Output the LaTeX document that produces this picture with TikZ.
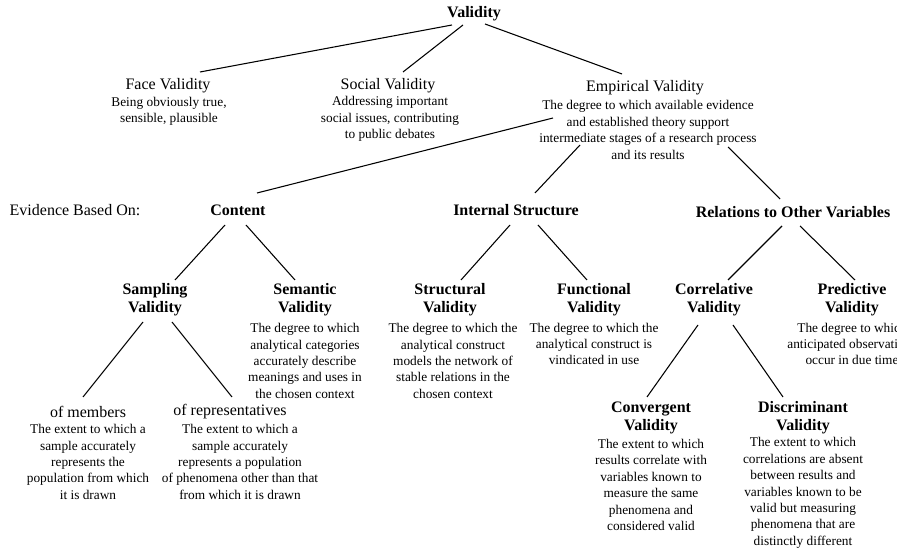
\documentclass[tikz,border=0pt]{standalone}
\usepackage{fontspec}
\setmainfont{Liberation Serif}
\usetikzlibrary{calc}

\begin{document}
\begin{tikzpicture}[
      x=0.75pt, y=-0.75pt,
      head/.style={inner sep=0pt, align=center, font=\fontsize{12}{13.5}\selectfont},
      bhead/.style={inner sep=0pt, align=center, font=\fontsize{12}{13.5}\selectfont\bfseries},
      desc/.style={inner sep=0pt, align=center, font=\fontsize{10}{12.3}\selectfont},
      link/.style={line width=0.8pt}
    ]
    \clip (0,0) rectangle (897,548);
    % top level
    \node[bhead] (valid) at (474,14) {Validity};
    \node[head] (face) at (168,86) {Face Validity};
    \node[desc] (facetxt) at (169,111) {Being obviously true,\\sensible, plausible};
    \node[head] (social) at (388,86) {Social Validity};
    \node[desc] (socialtxt) at (390,119) {Addressing important\\social issues, contributing\\to public debates};
    \node[head] (emp) at (645,88) {Empirical Validity};
    \node[desc] (emptxt) at (648,130) {The degree to which available evidence\\and established theory support\\intermediate stages of a research process\\and its results};
    % evidence row
    \node[head] (evid) at (75,210) {Evidence Based On:};
    \node[bhead] (content) at (238,210) {Content};
    \node[bhead] (internal) at (516,210) {Internal Structure};
    \node[bhead] (relations) at (793,212) {Relations to Other Variables};
    % third row
    \node[bhead] (sampling) at (155,300) {Sampling\\Validity};
    \node[bhead] (semantic) at (305,300) {Semantic\\Validity};
    \node[desc] (semantictxt) at (305,361) {The degree to which\\analytical categories\\accurately describe\\meanings and uses in\\the chosen context};
    \node[bhead] (structural) at (450,300) {Structural\\Validity};
    \node[desc] (structuraltxt) at (453,361) {The degree to which the\\analytical construct\\models the network of\\stable relations in the\\chosen context};
    \node[bhead] (functional) at (594,300) {Functional\\Validity};
    \node[desc] (functionaltxt) at (594,344) {The degree to which the\\analytical construct is\\vindicated in use};
    \node[bhead] (correl) at (714,300) {Correlative\\Validity};
    \node[bhead] (predict) at (852,300) {Predictive\\Validity};
    \node[desc] (predicttxt) at (852,344) {The degree to which\\anticipated observations\\occur in due time};
    % bottom row
    \node[head] (ofmem) at (88,412) {of members};
    \node[desc] (ofmemtxt) at (88,462) {The extent to which a\\sample accurately\\represents the\\population from which\\it is drawn};
    \node[head] (ofrep) at (230,412) {of representatives};
    \node[desc] (ofreptxt) at (240,462) {The extent to which a\\sample accurately\\represents a population\\of phenomena other than that\\from which it is drawn};
    \node[bhead] (converg) at (651,418) {Convergent\\Validity};
    \node[desc] (convergtxt) at (651,485) {The extent to which\\results correlate with\\variables known to\\measure the same\\phenomena and\\considered valid};
    \node[bhead] (discrim) at (803,418) {Discriminant\\Validity};
    \node[desc] (discrimtxt) at (803,493) {The extent to which\\correlations are absent\\between results and\\variables known to be\\valid but measuring\\phenomena that are\\distinctly different};
    % connectors
    \draw[link] ($(valid)+(-22,11)$) -- ($(face)+(32,-14)$);
    \draw[link] ($(valid)+(-11,11)$) -- ($(social)+(15,-14)$);
    \draw[link] ($(valid)+(11,10)$) -- ($(emp)+(-23,-14)$);
    \draw[link] ($(emptxt)+(-95,-12)$) -- ($(content)+(19,-17)$);
    \draw[link] ($(emptxt)+(-68,15)$) -- ($(internal)+(19,-17)$);
    \draw[link] ($(emptxt)+(80,17)$) -- ($(relations)+(-13,-13)$);
    \draw[link] ($(content)+(-13,15)$) -- ($(sampling)+(20,-20)$);
    \draw[link] ($(content)+(8,15)$) -- ($(semantic)+(-10,-20)$);
    \draw[link] ($(sampling)+(-12,22)$) -- ($(ofmem)+(-5,-15)$);
    \draw[link] ($(sampling)+(17,22)$) -- ($(ofrep)+(2,-15)$);
    \draw[link] ($(internal)+(-6,15)$) -- ($(structural)+(11,-20)$);
    \draw[link] ($(internal)+(22,15)$) -- ($(functional)+(-7,-20)$);
    \draw[link] ($(relations)+(-11,14)$) -- ($(correl)+(14,-20)$);
    \draw[link] ($(relations)+(7,14)$) -- ($(predict)+(3,-20)$);
    \draw[link] ($(correl)+(-16,25)$) -- ($(converg)+(-4,-21)$);
    \draw[link] ($(correl)+(19,25)$) -- ($(discrim)+(-20,-21)$);
  \end{tikzpicture}
\end{document}
